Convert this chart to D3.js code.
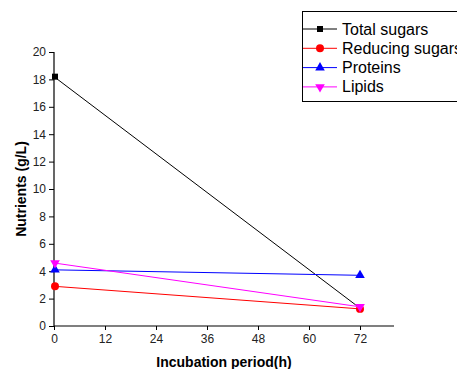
<!DOCTYPE html>
<html>
<head>
<meta charset="utf-8">
<script src="https://cdn.jsdelivr.net/npm/d3@7"></script>
<style>
  body { margin: 0; background: #fff; }
  svg { display: block; font-family: "Liberation Sans", Arial, sans-serif; }
</style>
</head>
<body>
<svg id="chart" width="457" height="369"></svg>
<script>
const hours = [0, 72];
const seriesNames = ['Total sugars', 'Reducing sugars', 'Proteins', 'Lipids'];
const totalSugars = [18.2, 1.3];
const reducingSugars = [2.9, 1.25];
const proteins = [4.1, 3.7];
const lipids = [4.6, 1.4];
const xTicks = [0, 12, 24, 36, 48, 60, 72];
const yTicks = [0, 2, 4, 6, 8, 10, 12, 14, 16, 18, 20];

const colors = ['#000000', '#ff0000', '#0000ff', '#ff00ff'];
const symbols = [d3.symbolSquare, d3.symbolCircle, d3.symbolTriangle, d3.symbolTriangle];
const rotations = [0, 0, 0, 180];
const sizes = [36, 50, 40, 40];

const svg = d3.select('#chart');

const x = d3.scaleLinear().domain([0, 80]).range([54, 394]);
const y = d3.scaleLinear().domain([0, 20]).range([326, 52]);

// Y axis
const yAxis = svg.append('g')
  .attr('transform', 'translate(54,0)')
  .call(d3.axisLeft(y).tickValues(yTicks).tickSize(5).tickPadding(3));
yAxis.select('.domain').attr('d', 'M0,' + y(20) + 'V' + y(0)).attr('stroke-width', 1.2);
yAxis.selectAll('text').attr('font-size', 12).attr('fill', '#222');

// X axis
const xAxis = svg.append('g')
  .attr('transform', 'translate(0,326)')
  .call(d3.axisBottom(x).tickValues(xTicks).tickSize(4).tickPadding(4));
xAxis.select('.domain').attr('d', 'M' + x(0) + ',0H' + x(80)).attr('stroke-width', 1.2);
xAxis.selectAll('text').attr('font-size', 12).attr('fill', '#222');

// titles
svg.append('text')
  .attr('transform', 'translate(26,189) rotate(-90)')
  .attr('text-anchor', 'middle')
  .attr('font-size', 14).attr('font-weight', 'bold')
  .text('Nutrients (g/L)');
svg.append('text')
  .attr('x', 224).attr('y', 367)
  .attr('text-anchor', 'middle')
  .attr('font-size', 14).attr('font-weight', 'bold')
  .text('Incubation period(h)');

// series
const allSeries = [totalSugars, reducingSugars, proteins, lipids];
const line = d3.line().x((d, i) => x(hours[i])).y(d => y(d));

allSeries.forEach((vals, s) => {
  svg.append('path')
    .datum(vals)
    .attr('d', line)
    .attr('fill', 'none')
    .attr('stroke', colors[s])
    .attr('stroke-width', 1);
  svg.selectAll('.m' + s)
    .data(vals)
    .enter()
    .append('path')
    .attr('class', 'm' + s)
    .attr('d', d3.symbol().type(symbols[s]).size(sizes[s]))
    .attr('transform', (d, i) => 'translate(' + (x(hours[i]) + (i === 0 ? 1 : 0)) + ',' + y(d) + ') rotate(' + rotations[s] + ')')
    .attr('fill', colors[s]);
});

// legend
const legend = svg.append('g');
legend.append('rect')
  .attr('x', 302.5).attr('y', 11.5)
  .attr('width', 170).attr('height', 90)
  .attr('fill', '#fff').attr('stroke', '#000').attr('stroke-width', 1);

seriesNames.forEach((name, s) => {
  const ly = 29 + s * 19.3;
  legend.append('line')
    .attr('x1', 303).attr('x2', 337)
    .attr('y1', ly).attr('y2', ly)
    .attr('stroke', colors[s]).attr('stroke-width', 1);
  legend.append('path')
    .attr('d', d3.symbol().type(symbols[s]).size(sizes[s]))
    .attr('transform', 'translate(320,' + ly + ') rotate(' + rotations[s] + ')')
    .attr('fill', colors[s]);
  legend.append('text')
    .attr('x', 342).attr('y', ly + 5.5)
    .attr('font-size', 16)
    .text(name);
});
</script>
</body>
</html>
